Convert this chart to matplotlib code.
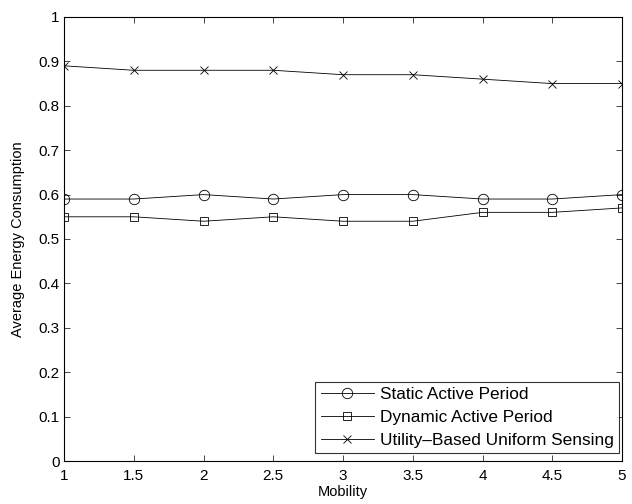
import matplotlib

matplotlib.use("Agg")
import matplotlib.pyplot as plt

plt.rcParams["font.family"] = ["Liberation Sans", "DejaVu Sans"]

mobility = [1, 1.5, 2, 2.5, 3, 3.5, 4, 4.5, 5]
static_active = [0.59, 0.59, 0.60, 0.59, 0.60, 0.60, 0.59, 0.59, 0.60]
dynamic_active = [0.55, 0.55, 0.54, 0.55, 0.54, 0.54, 0.56, 0.56, 0.57]
utility_uniform = [0.89, 0.88, 0.88, 0.88, 0.87, 0.87, 0.86, 0.85, 0.85]

xticks = [1, 1.5, 2, 2.5, 3, 3.5, 4, 4.5, 5]
yticks = [0, 0.1, 0.2, 0.3, 0.4, 0.5, 0.6, 0.7, 0.8, 0.9, 1]

fig = plt.figure(figsize=(6.32, 5.04), dpi=100)
ax = fig.add_axes([0.1013, 0.0853, 0.8829, 0.881])

style = dict(color="black", lw=0.6, mfc="none", mec="black", mew=0.6)
ax.plot(mobility, static_active, marker="o", ms=7.5, label="Static Active Period", **style)
ax.plot(mobility, dynamic_active, marker="s", ms=6, label="Dynamic Active Period", **style)
ax.plot(mobility, utility_uniform, marker="x", ms=6, label="Utility\u2013Based Uniform Sensing", **style)

ax.set_xlim(1, 5)
ax.set_ylim(0, 1)
ax.set_xticks(xticks)
ax.set_xticklabels([f"{t:g}" for t in xticks])
ax.set_yticks(yticks)
ax.set_yticklabels([f"{t:g}" for t in yticks])
ax.tick_params(direction="in", top=True, right=True, labelsize=11, length=4, width=0.5, pad=3)
ax.tick_params(axis="x", pad=6)
for s in ax.spines.values():
    s.set_linewidth(0.8)

ax.set_xlabel("Mobility", fontsize=10.5, labelpad=1)
ax.set_ylabel("Average Energy Consumption", fontsize=10.5, labelpad=10)

leg = ax.legend(loc="lower right", bbox_to_anchor=(0.9946, 0.018), fontsize=12.4,
                frameon=True, fancybox=False, edgecolor="black", borderaxespad=0,
                handlelength=3.1, labelspacing=0.45, borderpad=0.3, handletextpad=0.35)
leg.get_frame().set_linewidth(0.8)

fig.savefig("out.png", dpi=100)
